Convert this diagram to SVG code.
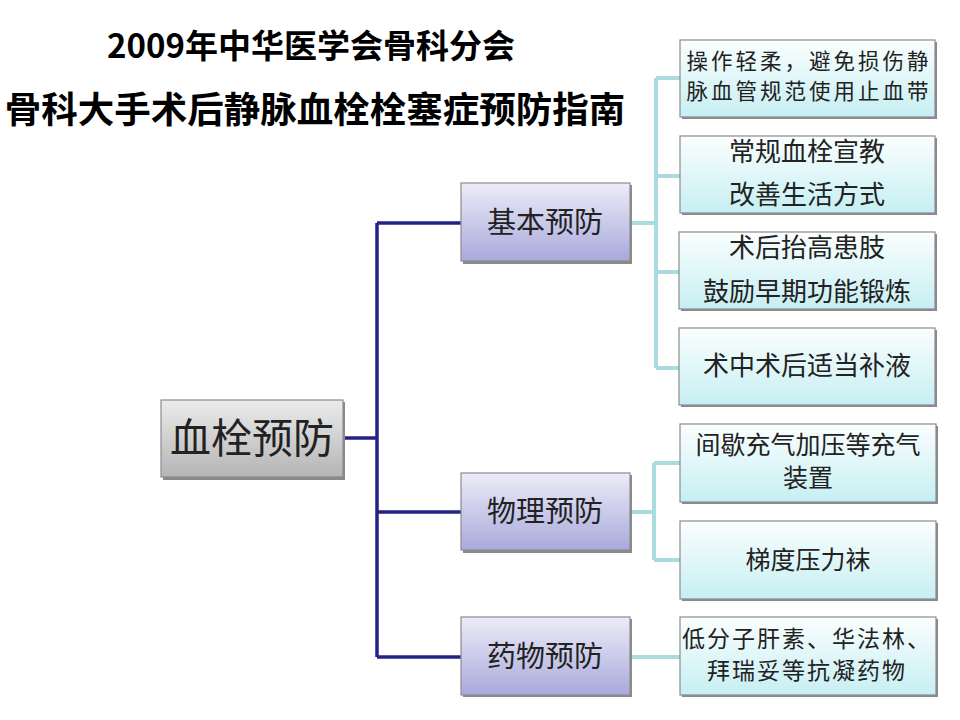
<svg xmlns="http://www.w3.org/2000/svg" width="960" height="720" viewBox="0 0 960 720">
<defs>
<linearGradient id="gGray" x1="0" y1="0" x2="0" y2="1">
<stop offset="0" stop-color="#ececec"/><stop offset="1" stop-color="#b4b4b4"/>
</linearGradient>
<linearGradient id="gLav" x1="0" y1="0" x2="0" y2="1">
<stop offset="0" stop-color="#ececf8"/><stop offset="1" stop-color="#a9a9dc"/>
</linearGradient>
<linearGradient id="gCyan" x1="0" y1="0" x2="0" y2="1">
<stop offset="0" stop-color="#fbfefe"/><stop offset="1" stop-color="#c6eff3"/>
</linearGradient>
<style>
.t{font-family:"Noto Sans CJK SC","Noto Sans",sans-serif;fill:#222;text-anchor:middle}
.title{font-family:"Noto Sans CJK SC","Noto Sans",sans-serif;font-weight:bold;fill:#000;text-anchor:middle}
.shadow{fill:#8a8a8a}
.box{stroke:#8c8c8c;stroke-width:1.2}
.dark{fill:none;stroke:#232386;stroke-width:3.5}
.light{fill:none;stroke:#a9dcdc;stroke-width:4}
</style>
</defs>
<rect width="960" height="720" fill="#fff"/>
<g id="title">
<text class="title" x="311" y="58" font-size="33">2009年中华医学会骨科分会</text>
<text class="title" x="315" y="123" font-size="36.5">骨科大手术后静脉血栓栓塞症预防指南</text>
</g>
<g id="connectors">
<path class="dark" d="M343 438 H377 M377 223 V657 M377 223 H461 M377 512 H461 M377 657 H461"/>
<path class="light" d="M630 223 H656 M656 78 V368 M656 78 H680 M656 176 H680 M656 272 H680 M656 368 H680"/>
<path class="light" d="M630 512 H654 M654 463 V560 M654 463 H680 M654 560 H680"/>
<path class="light" d="M630 657 H680"/>
</g>
<g id="root">
<rect class="shadow" x="163" y="402" width="182" height="78"/>
<rect class="box" x="161" y="400" width="182" height="77" fill="url(#gGray)"/>
<text class="t" x="252" y="453" font-size="41">血栓预防</text>
</g>
<g id="n-basic">
<rect class="shadow" x="463" y="185" width="169" height="79"/>
<rect class="box" x="461" y="183" width="169" height="78" fill="url(#gLav)"/>
<text class="t" x="545" y="233" font-size="29">基本预防</text>
</g>
<g id="n-phys">
<rect class="shadow" x="463" y="475" width="169" height="78"/>
<rect class="box" x="461" y="473" width="169" height="77" fill="url(#gLav)"/>
<text class="t" x="545" y="522" font-size="29">物理预防</text>
</g>
<g id="n-drug">
<rect class="shadow" x="463" y="619" width="169" height="78"/>
<rect class="box" x="461" y="617" width="169" height="78" fill="url(#gLav)"/>
<text class="t" x="545" y="667" font-size="29">药物预防</text>
</g>
<g id="b1">
<rect class="shadow" x="682" y="42" width="255" height="77"/>
<rect class="box" x="680" y="40" width="255" height="77" fill="url(#gCyan)"/>
<text class="t" x="809" y="69" font-size="21.5" letter-spacing="3">操作轻柔，避免损伤静</text>
<text class="t" x="809" y="99" font-size="21.5" letter-spacing="3">脉血管规范使用止血带</text>
</g>
<g id="b2">
<rect class="shadow" x="682" y="138" width="255" height="77"/>
<rect class="box" x="680" y="136" width="255" height="77" fill="url(#gCyan)"/>
<text class="t" x="807" y="161" font-size="26">常规血栓宣教</text>
<text class="t" x="807" y="204" font-size="26">改善生活方式</text>
</g>
<g id="b3">
<rect class="shadow" x="681" y="234" width="256" height="77"/>
<rect class="box" x="679" y="232" width="256" height="77" fill="url(#gCyan)"/>
<text class="t" x="807" y="257" font-size="26">术后抬高患肢</text>
<text class="t" x="807" y="301" font-size="26">鼓励早期功能锻炼</text>
</g>
<g id="b4">
<rect class="shadow" x="681" y="330" width="256" height="77"/>
<rect class="box" x="679" y="328" width="256" height="77" fill="url(#gCyan)"/>
<text class="t" x="807" y="375" font-size="26">术中术后适当补液</text>
</g>
<g id="b5">
<rect class="shadow" x="682" y="426" width="256" height="78"/>
<rect class="box" x="680" y="424" width="256" height="78" fill="url(#gCyan)"/>
<text class="t" x="808" y="454" font-size="25">间歇充气加压等充气</text>
<text class="t" x="808" y="487" font-size="25">装置</text>
</g>
<g id="b6">
<rect class="shadow" x="682" y="523" width="256" height="78"/>
<rect class="box" x="680" y="521" width="256" height="78" fill="url(#gCyan)"/>
<text class="t" x="808" y="569" font-size="25">梯度压力袜</text>
</g>
<g id="b7">
<rect class="shadow" x="682" y="619" width="256" height="78"/>
<rect class="box" x="680" y="617" width="256" height="78" fill="url(#gCyan)"/>
<text class="t" x="807" y="647" font-size="23" letter-spacing="2">低分子肝素、华法林、</text>
<text class="t" x="807" y="679" font-size="23" letter-spacing="2">拜瑞妥等抗凝药物</text>
</g>
</svg>
